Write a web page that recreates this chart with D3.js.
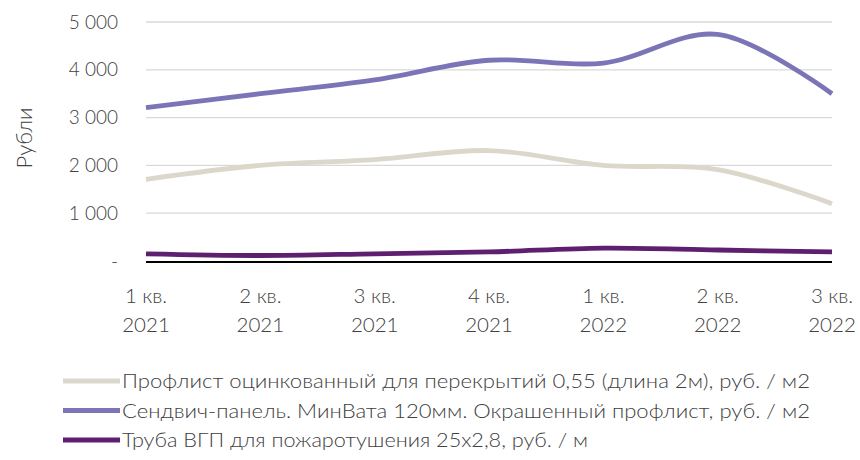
<!DOCTYPE html>
<html>
<head>
<meta charset="utf-8">
<script src="https://cdn.jsdelivr.net/npm/d3@7"></script>
<style>
  body { margin: 0; background: #fff; }
  text { font-family: Lato, "Open Sans", sans-serif; font-weight: 300; fill: #404040; }
</style>
</head>
<body>
<svg width="860" height="460"></svg>
<script>
var quarters = ["1 кв.|2021", "2 кв.|2021", "3 кв.|2021", "4 кв.|2021", "1 кв.|2022", "2 кв.|2022", "3 кв.|2022"];
var yTicks = [0, 1000, 2000, 3000, 4000, 5000];

var profList = [1710, 2000, 2120, 2310, 2000, 1910, 1200];
var sandwich = [3210, 3500, 3790, 4200, 4140, 4740, 3500];
var pipe = [150, 115, 150, 190, 270, 230, 190];

var seriesNames = [
  "Профлист оцинкованный для перекрытий 0,55 (длина 2м), руб. / м2",
  "Сендвич-панель. МинВата 120мм. Окрашенный профлист, руб. / м2",
  "Труба ВГП для пожаротушения 25х2,8, руб. / м"
];
var legendWidths = [688, 688, 466];
var colors = ["#dcd7cb", "#7b74b6", "#5e1f70"];

var svg = d3.select("svg");

var x = d3.scalePoint().domain(quarters).range([146, 832]);
var y = d3.scaleLinear().domain([0, 5000]).range([261, 22]);

// grid
svg.append("g")
  .selectAll("line")
  .data(yTicks.slice(1))
  .enter().append("line")
  .attr("x1", 146).attr("x2", 832)
  .attr("y1", function(d) { return y(d); })
  .attr("y2", function(d) { return y(d); })
  .attr("stroke", "#d9d9d9")
  .attr("stroke-width", 1.3);

// y labels
svg.append("g")
  .selectAll("text")
  .data(yTicks)
  .enter().append("text")
  .attr("x", 118)
  .attr("y", function(d) { return y(d); })
  .attr("dy", "0.35em")
  .attr("text-anchor", "end")
  .attr("font-size", 19)
  .text(function(d) { return d == 0 ? "-" : d3.format(",")(d).replace(",", " "); });

svg.append("text")
  .attr("transform", "translate(32,138) rotate(-90)")
  .attr("text-anchor", "middle")
  .attr("font-size", 22)
  .text("Рубли");

// lines
var line = d3.line()
  .x(function(d, i) { return x(quarters[i]); })
  .y(function(d) { return y(d); })
  .curve(d3.curveCatmullRom.alpha(0.5));

var allSeries = [profList, sandwich, pipe];
svg.append("g")
  .selectAll("path")
  .data(allSeries)
  .enter().append("path")
  .attr("d", line)
  .attr("fill", "none")
  .attr("stroke", function(d, i) { return colors[i]; })
  .attr("stroke-width", 4.8);

// x axis line
svg.append("line")
  .attr("x1", 146).attr("x2", 832)
  .attr("y1", y(0) + 1).attr("y2", y(0) + 1)
  .attr("stroke", "#000")
  .attr("stroke-width", 2);

// x labels
var xl = svg.append("g")
  .selectAll("text")
  .data(quarters)
  .enter().append("text")
  .attr("x", function(d) { return x(d); })
  .attr("y", 303)
  .attr("text-anchor", "middle")
  .attr("font-size", 20.5);
xl.append("tspan").attr("x", function(d) { return x(d); }).text(function(d) { return d.split("|")[0]; });
xl.append("tspan").attr("x", function(d) { return x(d); }).attr("dy", 29).text(function(d) { return d.split("|")[1]; });

// legend
var leg = svg.append("g")
  .selectAll("g")
  .data(seriesNames)
  .enter().append("g")
  .attr("transform", function(d, i) { return "translate(0," + (381 + i * 29.5) + ")"; });
leg.append("line")
  .attr("x1", 63).attr("x2", 120)
  .attr("stroke", function(d, i) { return colors[i]; })
  .attr("stroke-width", 4.8);
leg.append("text")
  .attr("x", 122)
  .attr("dy", "0.35em")
  .attr("font-size", 20.5)
  .attr("textLength", function(d, i) { return legendWidths[i]; })
  .attr("lengthAdjust", "spacingAndGlyphs")
  .text(function(d) { return d; });
</script>
</body>
</html>
